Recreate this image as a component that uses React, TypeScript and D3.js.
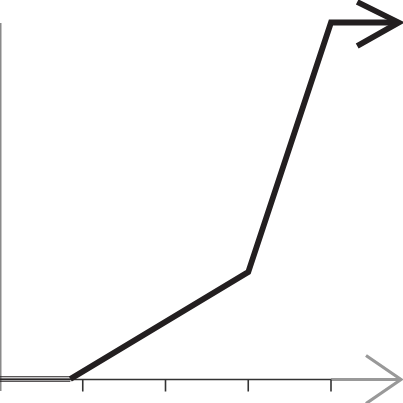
import React from "react";
import * as d3 from "d3";

const xValues = [0, 0.85, 3, 4, 4.8];
const yValues = [0, 0, 30, 100, 100];
const xTicks = [1, 2, 3, 4];

export default function App() {
  const W = 403, H = 403;
  const x = d3.scaleLinear().domain([0, 4]).range([0, 331]);
  const y = d3.scaleLinear().domain([0, 100]).range([379, 22.5]);
  const pts: [number, number][] = xValues.map((v, i) => [x(v), y(yValues[i])]);
  const line = d3.line();
  const end = pts[pts.length - 1];
  const axisY = y(0) + 0.5;
  const lastTick = x(xTicks[xTicks.length - 1]);
  return (
    <svg width={W} height={H} style={{ position: "absolute", left: 0, top: 0, background: "#fff" }}>
      {/* vertical axis */}
      <line x1={0.75} x2={0.75} y1={23} y2={391} stroke="#8a8a8a" strokeWidth={1.5} />
      {/* horizontal axis dark part */}
      <line x1={0} x2={lastTick} y1={axisY} y2={axisY} stroke="#333" strokeWidth={1.6} />
      {/* gray arrow part */}
      <line x1={lastTick} x2={401} y1={axisY} y2={axisY} stroke="#999" strokeWidth={3} />
      <polyline
        points={`366,355.5 401,${axisY} 366,403.5`}
        fill="none"
        stroke="#999"
        strokeWidth={3.2}
      />
      {xTicks.map((t) => (
        <line key={t} x1={x(t)} x2={x(t)} y1={axisY} y2={391.5} stroke="#333" strokeWidth={1.6} />
      ))}
      {/* baseline stripes under the flat segment */}
      {[376.8, 379, 381.2].map((yy, i) => (
        <line key={i} x1={0} x2={x(xValues[1])} y1={yy} y2={yy} stroke="#231f20" strokeWidth={1.1} />
      ))}
      {/* main thick line */}
      <path
        d={line(pts.slice(1)) || ""}
        fill="none"
        stroke="#231f20"
        strokeWidth={5.8}
        strokeLinejoin="miter"
        strokeMiterlimit={10}
      />
      {/* arrowhead */}
      <polyline
        points={`${end[0] - 40},2 ${end[0] + 1.5},${end[1]} ${end[0] - 40},${end[1] + 23.5}`}
        fill="none"
        stroke="#231f20"
        strokeWidth={5.8}
        strokeLinejoin="miter"
      />
    </svg>
  );
}
